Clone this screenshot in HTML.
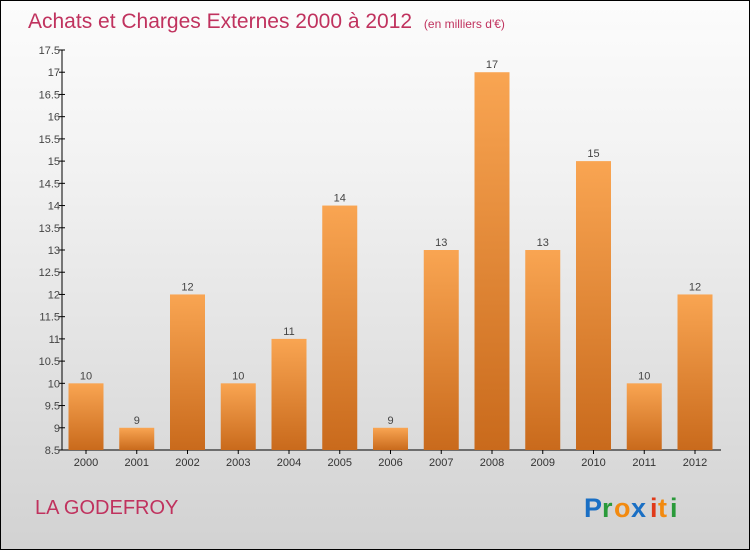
<!DOCTYPE html>
<html><head><meta charset="utf-8"><style>
html,body{margin:0;padding:0}
body{width:750px;height:550px;overflow:hidden}
#c{position:relative;width:748px;height:548px;border:1px solid #000;background:linear-gradient(#fcfcfc,#f2f2f2 30%,#d2d2d2);font-family:"Liberation Sans",sans-serif}
</style></head><body>
<div id="c">
<svg id="s" width="748" height="548" xmlns="http://www.w3.org/2000/svg">
<defs><linearGradient id="g" x1="0" y1="0" x2="0" y2="1"><stop offset="0" stop-color="#f9a552"/><stop offset="1" stop-color="#c96a1c"/></linearGradient></defs>
<text x="27" y="27" font-size="21" fill="#c0325e">Achats et Charges Externes 2000 à 2012 <tspan font-size="12" dx="6">(en milliers d'€)</tspan></text>
<text x="34" y="513" font-size="20" fill="#c0325e">LA GODEFROY</text>
<g font-size="27" font-weight="bold">
<text x="583" y="516" fill="#1a6fc4">P</text><text x="601" y="516" fill="#2a9a3a">r</text><text x="613" y="516" fill="#f28a10">o</text><text x="630" y="516" fill="#1a6fc4">x</text><text x="649" y="516" fill="#e03a1a">i</text><text x="657" y="516" fill="#f28a10">t</text><text x="669" y="516" fill="#2a9a3a">i</text>
</g>
<g id="plot"></g>
</svg>
</div>
<script>
const categories=["2000","2001","2002","2003","2004","2005","2006","2007","2008","2009","2010","2011","2012"];
const values=[10,9,12,10,11,14,9,13,17,13,15,10,12];
const yTicks=[8.5,9,9.5,10,10.5,11,11.5,12,12.5,13,13.5,14,14.5,15,15.5,16,16.5,17,17.5];
const yMin=8.5,yMax=17.5,yTop=49,yBot=449,x0=61,step=50.75;
const y=v=>yBot-(v-yMin)/(yMax-yMin)*(yBot-yTop);
const xc=i=>85+i*step;
const ns="http://www.w3.org/2000/svg",p=document.getElementById('plot');
function mk(t,a,txt){const e=document.createElementNS(ns,t);for(const k in a)e.setAttribute(k,a[k]);if(txt!=null)e.textContent=txt;p.appendChild(e);return e;}
let e=mk('line',{x1:x0,y1:yTop,x2:x0,y2:yBot,stroke:'#000'});


e=mk('line',{x1:x0,y1:yBot,x2:720,y2:yBot,stroke:'#000'});


yTicks.forEach(t=>{
 const l=mk('line',{x1:x0-3,y1:y(t),x2:x0+3,y2:y(t),stroke:'#000'});
 
 
 const tx=mk('text',{x:x0-2,y:y(t)+4,'font-size':11,fill:'#444','text-anchor':'end'},String(t));
 
 
});
categories.forEach((c,i)=>{
 const v=values[i],yy=y(v);
 const r=mk('rect',{x:xc(i)-17.5,y:yy,width:35,height:yBot-yy,fill:'url(#g)'});
 
 
 const lb=mk('text',{x:xc(i),y:yy-4,'font-size':11,fill:'#444','text-anchor':'middle'},String(v));
 
 
 const tk=mk('line',{x1:xc(i),y1:yBot,x2:xc(i),y2:yBot+4,stroke:'#000'});
 
 
 const xl=mk('text',{x:xc(i),y:yBot+16,'font-size':11,fill:'#333','text-anchor':'middle'},c);
 
 
});
</script>
</body></html>
